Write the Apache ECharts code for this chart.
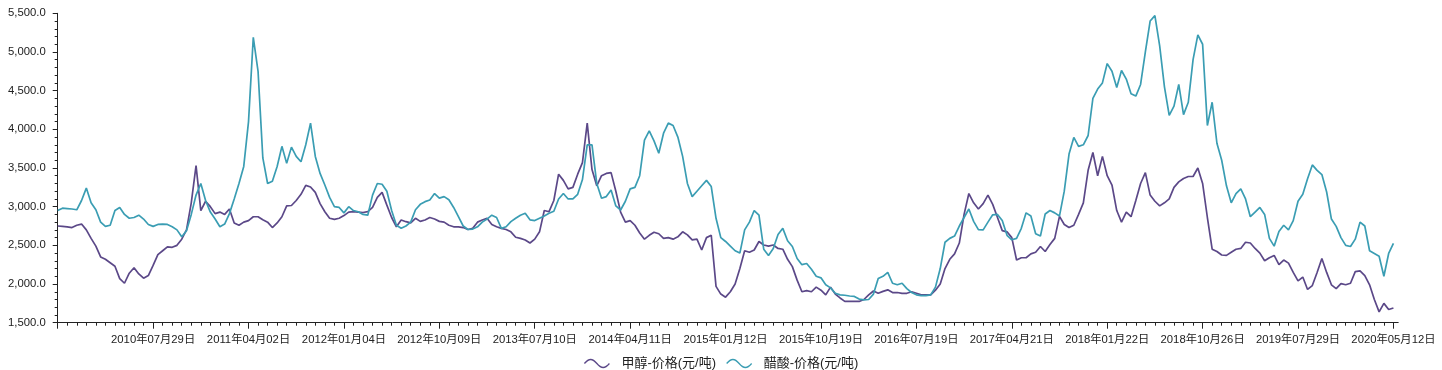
<!DOCTYPE html>
<html>
<head>
<meta charset="utf-8">
<script src="https://cdn.jsdelivr.net/npm/echarts@6/dist/echarts.min.js"></script>
<style>
html,body{margin:0;padding:0;background:#fff;}
#chart{width:1442px;height:370px;}
</style>
</head>
<body>
<div id="chart"></div>
<script>
// Tick label dates (every 20th category)
const tickLabels = ['2010年07月29日','2011年04月02日','2012年01月04日','2012年10月09日','2013年07月10日','2014年04月11日','2015年01月12日','2015年10月19日','2016年07月19日','2017年04月21日','2018年01月22日','2018年10月26日','2019年07月29日','2020年05月12日'];

// 甲醇-价格(元/吨)
const methanol = [
2750,2745,2740,2730,2760,2775,2700,2590,2490,2350,
2320,2275,2230,2070,2010,2140,2210,2130,2075,2110,
2240,2380,2430,2480,2475,2500,2580,2700,3050,3530,
2950,3070,3000,2910,2930,2900,2970,2790,2760,2800,
2820,2870,2870,2830,2800,2730,2790,2870,3010,3015,
3080,3160,3275,3255,3185,3040,2935,2850,2835,2850,
2885,2930,2935,2930,2925,2935,2990,3120,3185,3020,
2860,2740,2828,2806,2790,2850,2810,2828,2860,2840,
2810,2800,2760,2740,2740,2730,2705,2720,2800,2828,
2850,2770,2740,2720,2705,2675,2605,2590,2570,2530,
2580,2675,2950,2935,3080,3420,3340,3230,3250,3420,
3570,4080,3480,3270,3400,3430,3440,3200,2930,2800,
2820,2760,2660,2580,2630,2670,2650,2590,2600,2580,
2610,2675,2635,2570,2580,2440,2600,2630,1970,1870,
1830,1900,2000,2200,2430,2410,2440,2550,2505,2490,
2505,2460,2450,2320,2225,2050,1900,1915,1900,1960,
1920,1860,1960,1870,1820,1775,1775,1775,1775,1800,
1860,1910,1880,1905,1925,1890,1890,1880,1880,1900,
1880,1860,1860,1860,1920,2000,2200,2320,2390,2530,
2900,3170,3050,2970,3040,3150,3030,2860,2690,2675,
2600,2310,2340,2340,2390,2410,2485,2420,2510,2590,
2875,2770,2730,2760,2900,3050,3470,3700,3400,3650,
3400,3280,2950,2800,2930,2870,3080,3300,3440,3150,
3070,3010,3050,3100,3250,3320,3365,3390,3390,3500,
3300,2860,2450,2420,2375,2370,2410,2450,2460,2540,
2530,2460,2400,2300,2340,2370,2250,2310,2270,2150,
2040,2090,1930,1980,2150,2330,2150,1990,1940,2005,
1990,2010,2160,2170,2110,1990,1800,1640,1750,1670,
1690,null
];

// 醋酸-价格(元/吨)
const aceticAcid = [
2950,2980,2975,2970,2960,3080,3240,3050,2960,2800,
2745,2760,2950,2990,2900,2850,2860,2890,2840,2770,
2745,2770,2775,2770,2740,2700,2610,2690,2900,3150,
3300,3080,2930,2840,2740,2775,2910,3100,3300,3520,
4100,5190,4750,3630,3300,3330,3520,3780,3560,3770,
3650,3580,3800,4080,3650,3430,3280,3120,3000,2990,
2920,3000,2950,2935,2900,2890,3150,3300,3290,3200,
2950,2760,2720,2750,2800,2960,3030,3065,3086,3170,
3110,3130,3090,2990,2870,2750,2705,2710,2740,2800,
2840,2890,2860,2720,2740,2806,2850,2890,2914,2830,
2820,2850,2880,2914,2940,3100,3170,3100,3100,3160,
3350,3800,3800,3300,3108,3130,3215,3010,2957,3070,
3230,3250,3400,3860,3980,3850,3690,3950,4080,4050,
3900,3650,3300,3130,3200,3270,3340,3260,2850,2600,
2550,2490,2430,2400,2700,2800,2950,2890,2450,2370,
2460,2640,2720,2560,2485,2330,2250,2265,2190,2100,
2080,1990,1950,1880,1860,1855,1845,1840,1805,1795,
1800,1870,2070,2100,2150,2010,1990,2010,1940,1890,
1860,1850,1850,1860,1960,2200,2540,2590,2620,2750,
2860,2970,2810,2703,2700,2800,2895,2900,2820,2630,
2572,2590,2720,2920,2880,2650,2620,2905,2950,2920,
2880,3200,3680,3895,3780,3800,3920,4400,4520,4600,
4850,4750,4540,4760,4650,4460,4430,4580,5000,5400,
5470,5080,4550,4180,4300,4580,4190,4350,4900,5220,
5100,4050,4350,3820,3600,3270,3050,3170,3230,3100,
2870,2930,2990,2900,2590,2490,2680,2760,2700,2820,
3070,3160,3360,3540,3470,3415,3190,2840,2745,2600,
2500,2485,2580,2800,2750,2430,2395,2360,2100,2395,
2525,null
];

const yTicks = {min: 1500, max: 5500, interval: 500};
const STEP = 20; // categories between tick labels

// Build category dates: tick labels sit at every STEP-th category (from index STEP)
function parseCN(s){ const m = s.match(/(\d+)年(\d+)月(\d+)日/); return Date.UTC(+m[1], +m[2]-1, +m[3]); }
function fmtCN(t){ const d = new Date(t); const p = n => (n<10?'0':'')+n; return d.getUTCFullYear()+'年'+p(d.getUTCMonth()+1)+'月'+p(d.getUTCDate())+'日'; }
const anchors = tickLabels.map(parseCN);
const N = methanol.length;
const categories = [];
for (let i = 0; i < N; i++) {
  if (i % STEP === 0 && i >= STEP && (i/STEP - 1) < tickLabels.length) { categories.push(tickLabels[i/STEP - 1]); continue; }
  let k = Math.floor(i / STEP) - 1;
  k = Math.max(0, Math.min(anchors.length - 2, k));
  const t0 = anchors[k], t1 = anchors[k+1];
  const f = (i - (k+1)*STEP) / STEP;
  const day = 86400000;
  categories.push(fmtCN(Math.round((t0 + (t1 - t0) * f) / day) * day));
}

function fmtNum(v){
  const s = v.toFixed(1); const parts = s.split('.');
  return parts[0].replace(/\B(?=(\d{3})+(?!\d))/g, ',') + '.' + parts[1];
}

const FONT = "'Liberation Sans', 'Noto Sans CJK SC', Arial, sans-serif";
const C1 = '#5b4888', C2 = '#3a9db3';
const wave = 'path://M0,4 C5,-2 9,-2 14,4 S23,10 28,4';

const chart = echarts.init(document.getElementById('chart'), null, {renderer: 'canvas'});
chart.setOption({
  animation: false,
  backgroundColor: '#fff',
  grid: {left: 57.7, right: 43.8, top: 13.3, bottom: 47.3},
  legend: {
    top: 352, left: 'center',
    itemWidth: 25, itemHeight: 9, itemGap: 10,
    textStyle: {fontFamily: FONT, fontSize: 13, color: '#222', padding: [0, 0, 0, 7]},
    data: [
      {name: '甲醇-价格(元/吨)', icon: wave, itemStyle: {color: 'transparent', borderColor: C1, borderWidth: 1.3}},
      {name: '醋酸-价格(元/吨)', icon: wave, itemStyle: {color: 'transparent', borderColor: C2, borderWidth: 1.3}}
    ]
  },
  xAxis: [{
    type: 'category', data: categories, boundaryGap: false,
    axisLine: {lineStyle: {color: '#222', width: 1}},
    axisTick: {length: 6, interval: (i) => i % STEP === 0, lineStyle: {color: '#222'}},
    axisLabel: {interval: (i) => i > 0 && i % STEP === 0, margin: 12, fontFamily: FONT, fontSize: 11.3, color: '#222'},
    splitLine: {show: false}
  }, {
    type: 'category', data: categories, boundaryGap: false, position: 'bottom',
    axisLine: {show: false},
    axisTick: {length: 3, interval: (i) => i % 2 === 0 && i % STEP !== 0, lineStyle: {color: '#222'}},
    axisLabel: {show: false},
    splitLine: {show: false}
  }],
  yAxis: {
    type: 'value', min: yTicks.min, max: yTicks.max, interval: yTicks.interval,
    axisLine: {show: true, lineStyle: {color: '#222', width: 1}},
    axisTick: {show: true, length: 5, lineStyle: {color: '#222'}},
    minorTick: {show: true, splitNumber: 5, length: 3, lineStyle: {color: '#222'}},
    axisLabel: {margin: 12, fontFamily: FONT, fontSize: 11.3, color: '#222', formatter: fmtNum},
    splitLine: {show: false}
  },
  series: [
    {name: '甲醇-价格(元/吨)', type: 'line', data: methanol, showSymbol: false, symbol: 'none', color: C1, lineStyle: {width: 1.7, color: C1}},
    {name: '醋酸-价格(元/吨)', type: 'line', data: aceticAcid, showSymbol: false, symbol: 'none', color: C2, lineStyle: {width: 1.7, color: C2}}
  ]
});
</script>
</body>
</html>
